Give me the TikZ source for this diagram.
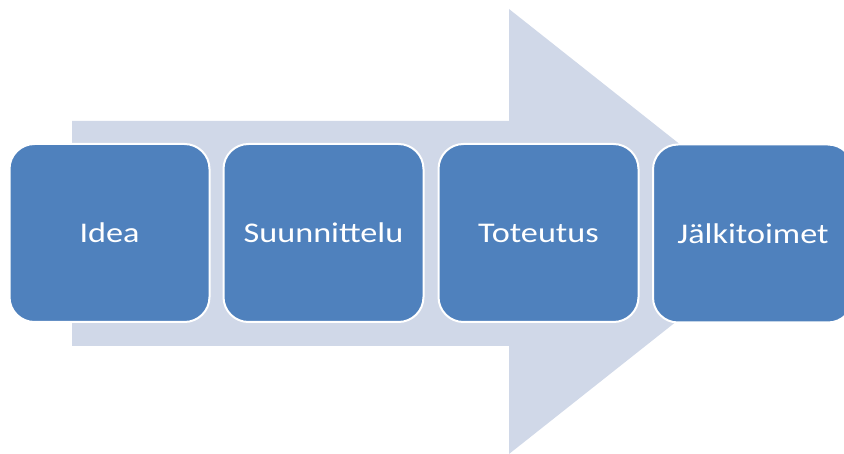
\documentclass[tikz,border=0pt]{standalone}
\usepackage{fontspec}
\setmainfont{Carlito}
\newfontfamily\stagefont[FakeStretch=1.2]{Carlito}
\definecolor{boxblue}{HTML}{4F81BD}
\definecolor{arrowgray}{HTML}{D0D8E8}
\begin{document}
\begin{tikzpicture}[x=1pt,y=-1pt,
  stagebox/.style={draw=white, line width=2pt, fill=boxblue, rounded corners=25pt,
    minimum width=200pt, minimum height=178pt, inner sep=0pt, text=white,
    font=\stagefont\fontsize{28.5}{33}\selectfont}]
\useasboundingbox (0,0) rectangle (844,454);
\fill[arrowgray] (72,121) -- (509,121) -- (509,9) -- (790,231.5) -- (509,454) -- (509,346) -- (72,346) -- cycle;
\node[stagebox] (idea) at (109.5,233) {Idea};
\node[stagebox] (suunnittelu) at (323.5,233) {Suunnittelu};
\node[stagebox] (toteutus) at (538.5,233) {Toteutus};
\node[stagebox] (jalki) at (753,233.5) {Jälkitoimet};
\end{tikzpicture}
\end{document}
